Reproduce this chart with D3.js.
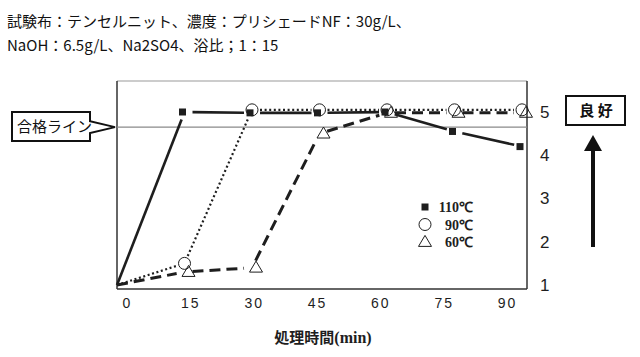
<!DOCTYPE html>
<html><head><meta charset="utf-8">
<script src="https://cdn.jsdelivr.net/npm/d3@7"></script>
<style>
html,body{margin:0;padding:0;background:#fff;}
svg{display:block;}
</style></head>
<body>
<svg id="c" width="640" height="357"></svg>
<script>
// ---- data ----
const titleLines = ["試験布：テンセルニット、濃度：プリシェードNF：30g/L、", "NaOH：6.5g/L、Na2SO4、浴比；1：15"];
const times = [0, 15, 30, 45, 60, 75, 90];
const seriesNames = ["110℃", "90℃", "60℃"];
const s110 = [1, 5, 4.98, 4.98, 5, 4.55, 4.2];
const s90  = [1, 1.5, 5.05, 5.05, 5.05, 5.05, 5.05];
const s60  = [1, 1.3, 1.4, 4.5, 4.98, 4.98, 4.98];
const yTicks = [1, 2, 3, 4, 5];
const xTicks = [0, 15, 30, 45, 60, 75, 90];
const passValue = 4.65;
const passLabel = "合格ライン";
const goodLabel = "良 好";
const xTitle = "処理時間";
const xUnit = "(min)";

// ---- layout ----
const svg = d3.select("#c");
const L = 117, R = 527, T = 81, B = 289;
const x = d3.scaleLinear().domain([0, 90]).range([117, 522]);
const xl = d3.scaleLinear().domain([0, 90]).range([127, 507]);
const y = d3.scaleLinear().domain([1, 5]).range([285, 112]);
const ink = "#1e1e1e";

// title
const tt = svg.append("text").attr("font-family", "'Noto Sans CJK JP', sans-serif")
  .attr("font-size", 15).attr("fill", "#111");
titleLines.forEach((t, i) => tt.append("tspan").attr("x", 7).attr("y", 27 + i * 24).text(t));

// frame
svg.append("line").attr("x1", L).attr("x2", R).attr("y1", T).attr("y2", T).attr("stroke", "#999").attr("stroke-width", 1);
svg.append("line").attr("x1", L).attr("x2", L).attr("y1", T).attr("y2", B).attr("stroke", "#333").attr("stroke-width", 1.5);
svg.append("line").attr("x1", R).attr("x2", R).attr("y1", T).attr("y2", B).attr("stroke", "#333").attr("stroke-width", 1.5);
svg.append("line").attr("x1", L).attr("x2", R).attr("y1", B).attr("y2", B).attr("stroke", "#333").attr("stroke-width", 1.5);

// pass line
svg.append("line").attr("x1", L).attr("x2", R).attr("y1", y(passValue)).attr("y2", y(passValue))
  .attr("stroke", "#8a8a8a").attr("stroke-width", 1.2);

// x tick labels
const xAxis = d3.axisBottom(xl).tickValues(xTicks).tickSize(0).tickPadding(0);
const xg = svg.append("g").attr("transform", `translate(0,${B + 9})`).call(xAxis);
xg.select(".domain").remove();
xg.selectAll("text").attr("font-family", "'Liberation Sans', Arial, sans-serif")
  .attr("font-size", 14).attr("fill", ink).attr("letter-spacing", 2).attr("dy", "0.71em");

// y tick labels (right)
const yAxis = d3.axisRight(y).tickValues(yTicks).tickSize(0).tickPadding(0).tickFormat(d3.format("d"));
const yg = svg.append("g").attr("transform", `translate(540,0)`).call(yAxis);
yg.select(".domain").remove();
yg.selectAll("text").attr("font-family", "'Liberation Sans', Arial, sans-serif")
  .attr("font-size", 17).attr("fill", ink);

// x title
const xt = svg.append("text").attr("x", 323).attr("y", 343).attr("text-anchor", "middle")
  .attr("font-weight", "bold").attr("fill", ink);
xt.append("tspan").attr("font-family", "'Noto Sans CJK JP', sans-serif").attr("font-size", 15).text(xTitle);
xt.append("tspan").attr("font-family", "'Liberation Serif', serif").attr("font-size", 16).text(xUnit);

// series lines with gaps near markers
const series = [
  {name: seriesNames[0], vals: s110, dash: null, width: 2.6, shape: "square", dx: -2},
  {name: seriesNames[1], vals: s90, dash: "2,2.6", width: 2.2, shape: "circle", dx: 0},
  {name: seriesNames[2], vals: s60, dash: "11,6", width: 3, shape: "triangle", dx: 4},
];
const gap = 8;
function segs(vals) {
  const out = [];
  for (let i = 0; i < vals.length - 1; i++) {
    const x1 = x(times[i]), y1 = y(vals[i]), x2 = x(times[i + 1]), y2 = y(vals[i + 1]);
    const len = Math.hypot(x2 - x1, y2 - y1);
    const ux = (x2 - x1) / len, uy = (y2 - y1) / len;
    const g1 = i === 0 ? 0 : gap, g2 = gap;
    out.push({x1: x1 + ux * g1, y1: y1 + uy * g1, x2: x2 - ux * g2, y2: y2 - uy * g2});
  }
  return out;
}
const order = [2, 0, 1];
order.forEach(k => {
  const s = series[k];
  svg.append("g").selectAll("line").data(segs(s.vals)).join("line")
    .attr("x1", d => d.x1).attr("y1", d => d.y1).attr("x2", d => d.x2).attr("y2", d => d.y2)
    .attr("stroke", ink).attr("stroke-width", s.width)
    .attr("stroke-dasharray", s.dash);
});

// markers
function drawMarker(g, shape, cx, cy) {
  if (shape === "square") {
    g.append("rect").attr("x", cx - 3.5).attr("y", cy - 3.5).attr("width", 7).attr("height", 7).attr("fill", ink);
  } else if (shape === "circle") {
    g.append("circle").attr("cx", cx).attr("cy", cy).attr("r", 6).attr("fill", "none").attr("stroke", ink).attr("stroke-width", 1);
  } else {
    const h = 11, w = 13;
    g.append("path").attr("d", `M${cx},${cy - h * 0.6}L${cx + w / 2},${cy + h * 0.4}L${cx - w / 2},${cy + h * 0.4}Z`)
      .attr("fill", "none").attr("stroke", ink).attr("stroke-width", 1);
  }
}
series.forEach(s => {
  const g = svg.append("g");
  s.vals.forEach((v, i) => { if (i > 0) drawMarker(g, s.shape, x(times[i]) + s.dx, y(v)); });
});

// legend
const lg = svg.append("g");
series.forEach((s, i) => {
  const cy = 207 + i * 17.5;
  drawMarker(lg, s.shape, 425, cy);
  lg.append("text").attr("x", 473).attr("y", cy + 5).attr("text-anchor", "end")
    .attr("font-family", "'Liberation Serif', serif").attr("font-weight", "bold").attr("font-size", 14)
    .attr("fill", ink).text(s.name);
});

// callout "合格ライン"
const py = y(passValue);
svg.append("path")
  .attr("d", `M90,${py - 6}L90,112L12,112L12,141L90,141L90,${py + 6}L115,${py}Z`)
  .attr("fill", "#fff").attr("stroke", "#111").attr("stroke-width", 2).attr("stroke-linejoin", "miter");
svg.append("text").attr("x", 17).attr("y", 132).attr("font-family", "'Noto Sans CJK JP', sans-serif")
  .attr("font-size", 15).attr("fill", "#111").text(passLabel);

// "良好" box + arrow
svg.append("rect").attr("x", 566).attr("y", 96).attr("width", 59).attr("height", 29)
  .attr("fill", "#fff").attr("stroke", "#111").attr("stroke-width", 2);
svg.append("text").attr("x", 596).attr("y", 116).attr("text-anchor", "middle")
  .attr("font-family", "'Noto Sans CJK JP', sans-serif").attr("font-weight", "bold")
  .attr("font-size", 15).attr("fill", "#111").text(goodLabel);
svg.append("line").attr("x1", 593).attr("x2", 593).attr("y1", 247).attr("y2", 148)
  .attr("stroke", "#111").attr("stroke-width", 4);
svg.append("path").attr("d", "M593,135L602,151L584,151Z").attr("fill", "#111");
</script>
</body></html>
